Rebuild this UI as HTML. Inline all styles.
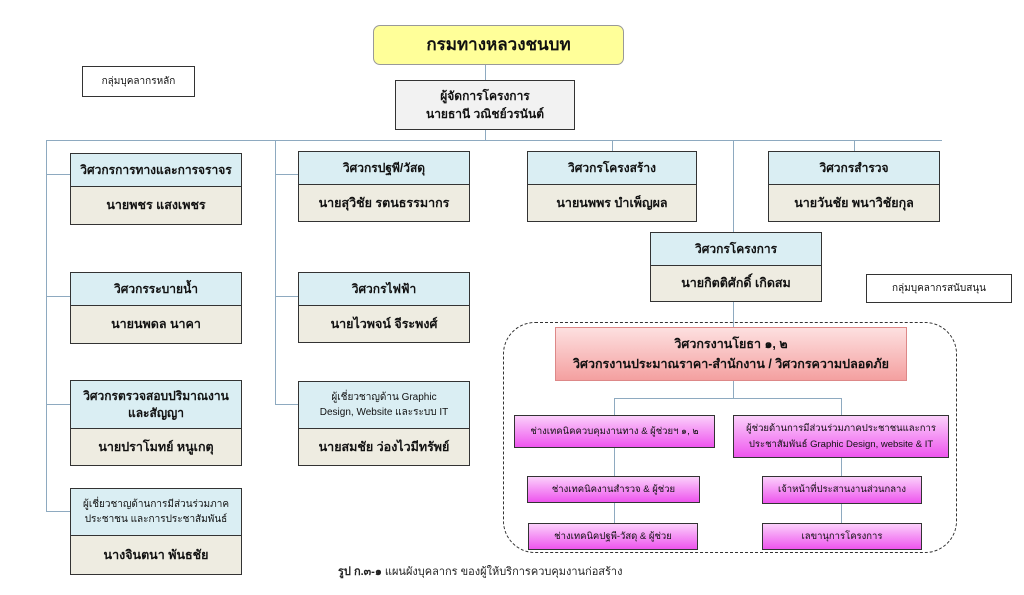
<!DOCTYPE html>
<html><head><meta charset="utf-8"><style>
body{margin:0;width:1024px;height:595px;background:#fff;position:relative;overflow:hidden;font-family:"Liberation Sans","Noto Sans CJK SC",sans-serif;}
.b{position:absolute;box-sizing:border-box;border:1.5px solid #333;display:flex;align-items:center;justify-content:center;text-align:center;font-size:12px;color:#111;line-height:1.5;}
.h{background:#daeef3;font-weight:bold}.n{background:#eeece1;font-size:12.5px;font-weight:bold}
.m{background:linear-gradient(#fbd0fb,#ee55ee);font-size:9.5px;line-height:1.6}
.l{position:absolute;background:#8eaac0}
</style></head><body>
<div class="b" style="left:373px;top:25px;width:251px;height:40px;background:#ffff99;border-radius:7px;border-color:#999;font-weight:bold;font-size:17px">กรมทางหลวงชนบท</div>
<div class="b" style="left:82px;top:66px;width:113px;height:31px;font-size:10px">กลุ่มบุคลากรหลัก</div>
<div class="l" style="left:485px;top:65px;width:1px;height:15px"></div>
<div class="b" style="left:395px;top:80px;width:180px;height:50px;background:#f2f2f2;font-size:12px;font-weight:bold">ผู้จัดการโครงการ<br>นายธานี วณิชย์วรนันต์</div>
<div class="l" style="left:485px;top:130px;width:1px;height:10px"></div>
<div class="l" style="left:46px;top:140px;width:896px;height:1px"></div>
<div class="l" style="left:46px;top:140px;width:1px;height:372px"></div>
<div class="l" style="left:275px;top:140px;width:1px;height:265px"></div>
<div class="l" style="left:612px;top:140px;width:1px;height:11px"></div>
<div class="l" style="left:854px;top:140px;width:1px;height:11px"></div>
<div class="l" style="left:733px;top:140px;width:1px;height:92px"></div>
<div class="l" style="left:733px;top:302px;width:1px;height:25px"></div>
<div class="l" style="left:46px;top:174px;width:24px;height:1px"></div>
<div class="l" style="left:46px;top:296px;width:24px;height:1px"></div>
<div class="l" style="left:46px;top:404px;width:24px;height:1px"></div>
<div class="l" style="left:46px;top:511px;width:24px;height:1px"></div>
<div class="l" style="left:275px;top:174px;width:23px;height:1px"></div>
<div class="l" style="left:275px;top:296px;width:23px;height:1px"></div>
<div class="l" style="left:275px;top:404px;width:23px;height:1px"></div>

<div class="b h" style="left:70px;top:153px;width:172px;height:34px">วิศวกรการทางและการจราจร</div>
<div class="b n" style="left:70px;top:186px;width:172px;height:39px">นายพชร แสงเพชร</div>
<div class="b h" style="left:70px;top:272px;width:172px;height:34px">วิศวกรระบายน้ำ</div>
<div class="b n" style="left:70px;top:305px;width:172px;height:39px">นายนพดล นาคา</div>
<div class="b h" style="left:70px;top:380px;width:172px;height:49px;line-height:1.4">วิศวกรตรวจสอบปริมาณงาน<br>และสัญญา</div>
<div class="b n" style="left:70px;top:428px;width:172px;height:38px">นายปราโมทย์ หนูเกตุ</div>
<div class="b h" style="left:70px;top:488px;width:172px;height:48px;font-size:10px;font-weight:normal">ผู้เชี่ยวชาญด้านการมีส่วนร่วมภาค<br>ประชาชน และการประชาสัมพันธ์</div>
<div class="b n" style="left:70px;top:535px;width:172px;height:40px">นางจินตนา พันธชัย</div>

<div class="b h" style="left:298px;top:151px;width:172px;height:34px">วิศวกรปฐพี/วัสดุ</div>
<div class="b n" style="left:298px;top:184px;width:172px;height:38px">นายสุวิชัย รตนธรรมากร</div>
<div class="b h" style="left:298px;top:272px;width:172px;height:34px">วิศวกรไฟฟ้า</div>
<div class="b n" style="left:298px;top:305px;width:172px;height:38px">นายไวพจน์ จีระพงศ์</div>
<div class="b h" style="left:298px;top:381px;width:172px;height:48px;font-size:10px;font-weight:normal">ผู้เชี่ยวชาญด้าน Graphic<br>Design, Website และระบบ IT</div>
<div class="b n" style="left:298px;top:428px;width:172px;height:38px">นายสมชัย ว่องไวมีทรัพย์</div>

<div class="b h" style="left:527px;top:151px;width:170px;height:34px">วิศวกรโครงสร้าง</div>
<div class="b n" style="left:527px;top:184px;width:170px;height:38px">นายนพพร บำเพ็ญผล</div>
<div class="b h" style="left:768px;top:151px;width:172px;height:34px">วิศวกรสำรวจ</div>
<div class="b n" style="left:768px;top:184px;width:172px;height:38px">นายวันชัย พนาวิชัยกุล</div>
<div class="b h" style="left:650px;top:232px;width:172px;height:34px">วิศวกรโครงการ</div>
<div class="b n" style="left:650px;top:265px;width:172px;height:37px">นายกิตติศักดิ์ เกิดสม</div>
<div class="b" style="left:866px;top:274px;width:146px;height:29px;font-size:10px">กลุ่มบุคลากรสนับสนุน</div>

<div style="position:absolute;left:503px;top:322px;width:454px;height:231px;box-sizing:border-box;border:1.5px dashed #333;border-radius:32px"></div>
<div class="l" style="left:733px;top:381px;width:1px;height:17px"></div>
<div class="l" style="left:614px;top:398px;width:228px;height:1px"></div>
<div class="l" style="left:614px;top:398px;width:1px;height:127px"></div>
<div class="l" style="left:841px;top:398px;width:1px;height:127px"></div>
<div class="b" style="left:555px;top:327px;width:352px;height:54px;background:linear-gradient(#fde0e0,#f4a0a0);border-color:#d88;font-size:12.5px;line-height:1.6;font-weight:bold">วิศวกรงานโยธา ๑, ๒<br>วิศวกรงานประมาณราคา-สำนักงาน / วิศวกรความปลอดภัย</div>
<div class="b m" style="left:514px;top:415px;width:201px;height:33px">ช่างเทคนิคควบคุมงานทาง &amp; ผู้ช่วยฯ ๑, ๒</div>
<div class="b m" style="left:733px;top:415px;width:216px;height:43px">ผู้ช่วยด้านการมีส่วนร่วมภาคประชาชนและการ<br>ประชาสัมพันธ์ Graphic Design, website &amp; IT</div>
<div class="b m" style="left:527px;top:476px;width:173px;height:27px">ช่างเทคนิคงานสำรวจ &amp; ผู้ช่วย</div>
<div class="b m" style="left:762px;top:476px;width:160px;height:28px">เจ้าหน้าที่ประสานงานส่วนกลาง</div>
<div class="b m" style="left:528px;top:523px;width:170px;height:27px">ช่างเทคนิคปฐพี-วัสดุ &amp; ผู้ช่วย</div>
<div class="b m" style="left:762px;top:523px;width:160px;height:27px">เลขานุการโครงการ</div>
<div style="position:absolute;left:338px;top:562px;font-size:11px;color:#222"><b>รูป ก.๓-๑</b> แผนผังบุคลากร ของผู้ให้บริการควบคุมงานก่อสร้าง</div>
</body></html>
